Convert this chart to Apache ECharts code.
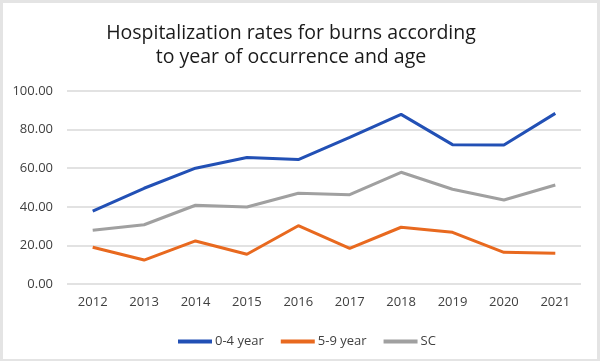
<!DOCTYPE html>
<html><head><meta charset="utf-8">
<script src="https://cdn.jsdelivr.net/npm/echarts@6/dist/echarts.min.js"></script>
<style>
html,body{margin:0;padding:0;background:#fff;}
#wrap{position:absolute;left:0;top:0;width:600px;height:361px;box-sizing:border-box;border:3px solid #e4e4e4;border-bottom-width:2px;}
#c{position:absolute;left:0;top:0;width:600px;height:361px;}
</style></head>
<body>
<div id="c"></div><div id="wrap"></div>
<script>
const categories = ['2012','2013','2014','2015','2016','2017','2018','2019','2020','2021'];
const age0to4 = [37.8, 49.6, 60.0, 65.5, 64.5, 76.0, 87.9, 72.2, 72.0, 88.4];
const age5to9 = [19.0, 12.4, 22.3, 15.4, 30.2, 18.5, 29.4, 26.8, 16.4, 15.9];
const sc = [27.8, 30.7, 40.8, 39.9, 47.0, 46.3, 57.9, 49.1, 43.5, 51.3];
const seriesNames = ['0-4 year', '5-9 year', 'SC'];
const titleLines = ['Hospitalization rates for burns according', 'to year of occurrence and age'];

const chart = echarts.init(document.getElementById('c'));
const font = 'Open Sans, Noto Sans, sans-serif';
chart.setOption({
  animation: false,
  title: {
    text: titleLines.join('\n'),
    left: 286, top: 17, textAlign: 'center',
    textStyle: {fontFamily: font, fontSize: 19.5, fontWeight: 'normal', color: '#1a1a1a', lineHeight: 23.5}
  },
  grid: {left: 67, right: 19, top: 91, bottom: 77},
  legend: {
    top: 330, left: 173, itemWidth: 34, itemHeight: 4, itemGap: 17,
    icon: 'rect',
    textStyle: {fontFamily: font, fontSize: 13, color: '#404040', padding: [0, 0, 0, -2]},
    data: seriesNames
  },
  xAxis: {
    type: 'category', data: categories, boundaryGap: true,
    axisLine: {show: false}, axisTick: {show: false},
    axisLabel: {fontFamily: font, fontSize: 13, color: '#404040', margin: 12}
  },
  yAxis: {
    type: 'value', min: 0, max: 100, interval: 20,
    axisLabel: {fontFamily: font, fontSize: 13, color: '#404040', margin: 14, formatter: v => v.toFixed(2)},
    splitLine: {lineStyle: {color: '#d9d9d9', width: 1.5}}
  },
  series: [
    {name: seriesNames[0], type: 'line', data: age0to4, symbol: 'none', lineStyle: {width: 3, color: '#2250b5'}, itemStyle: {color: '#2250b5'}},
    {name: seriesNames[1], type: 'line', data: age5to9, symbol: 'none', lineStyle: {width: 3, color: '#e8691f'}, itemStyle: {color: '#e8691f'}},
    {name: seriesNames[2], type: 'line', data: sc, symbol: 'none', lineStyle: {width: 3, color: '#a0a0a0'}, itemStyle: {color: '#a0a0a0'}}
  ]
});
</script>
</body></html>
